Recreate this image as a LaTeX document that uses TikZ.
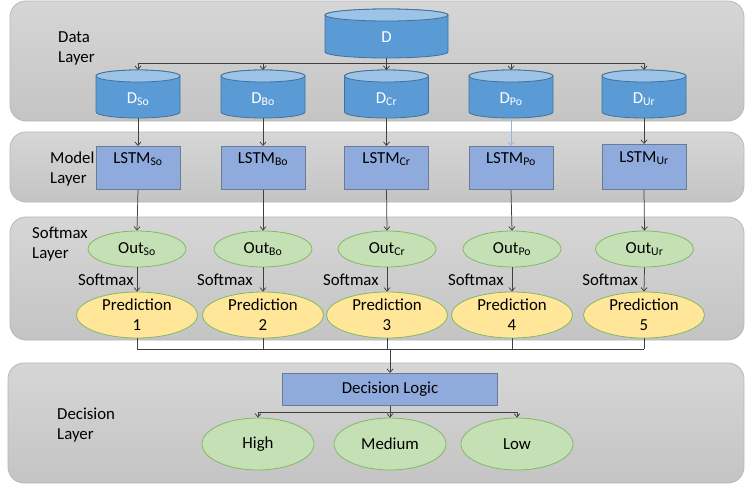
\documentclass[tikz,border=0pt]{standalone}
\usepackage{fontspec}
\setmainfont{Carlito}
\usetikzlibrary{arrows.meta,shapes.geometric,calc}
\definecolor{cylbody}{HTML}{5B9BD5}
\definecolor{cyltop}{HTML}{9DC3E6}
\definecolor{cylline}{HTML}{41719C}
\definecolor{boxfill}{HTML}{8FAADC}
\definecolor{boxline}{HTML}{6B7B95}
\definecolor{greenfill}{HTML}{C5E0B4}
\definecolor{greenline}{HTML}{82B964}
\definecolor{yellowfill}{HTML}{FFE699}
\definecolor{layertop}{HTML}{D6D6D6}
\definecolor{layerbot}{HTML}{C4C4C4}
\definecolor{layerline}{HTML}{B8B8B8}
\definecolor{arrowcol}{HTML}{404040}
\definecolor{poarrow}{HTML}{8DB8E0}
\newcommand{\sbs}[1]{\textsubscript{#1}}
\newcommand{\mycyl}[6]{%
  \path[fill=cylbody, draw=cylline, line width=0.8pt]
    ({#2-#5},{#3+6}) -- ({#2-#5},{#4-6})
    arc[start angle=180, end angle=360, x radius=#5pt, y radius=6pt]
    -- ({#2+#5},{#3+6})
    arc[start angle=0, end angle=180, x radius=#5pt, y radius=6pt] -- cycle;
  \path[fill=cyltop, draw=cylline, line width=0.8pt] (#2,{#3+6}) ellipse[x radius=#5pt, y radius=6pt];
  \pgfmathsetmacro\cyldepth{#4-#3-33}%
  \pgfmathsetmacro\cylwidth{2*#5}%
  \node[cylnode, minimum width=\cylwidth pt, text depth=\cyldepth pt] (#1) at (#2,#3) {#6};
}
\begin{document}
\begin{tikzpicture}[x=1pt,y=-1pt,
  font=\fontsize{16.8}{20}\selectfont,
  layer/.style={rounded corners=16pt, top color=layertop, bottom color=layerbot, draw=layerline, line width=0.8pt},
  cylnode/.style={anchor=north, inner sep=0pt, text=white, text height=33pt},
  lstm/.style={anchor=north, draw=boxline, fill=boxfill, line width=0.8pt, minimum width=84pt, inner sep=0pt, text height=17pt, text depth=26pt},
  outell/.style={ellipse, draw=greenline, fill=greenfill, line width=0.8pt, minimum width=98pt, minimum height=36pt, inner sep=0pt},
  predell/.style={ellipse, draw=greenline, fill=yellowfill, line width=0.8pt, minimum width=121pt, minimum height=46pt, inner sep=0pt, align=center},
  decell/.style={ellipse, draw=greenline, fill=greenfill, line width=0.8pt, minimum width=112pt, minimum height=52pt, inner sep=0pt},
  lbl/.style={anchor=north west, align=left, inner sep=0pt},
  conn/.style={draw=arrowcol, line width=0.75pt},
  arr/.style={conn, -{Straight Barb[length=3.5pt,width=6pt]}},
  sm/.style={inner sep=0pt, anchor=east}
]
\useasboundingbox (0,0) rectangle (745,485);
\fill[white] (0,0) rectangle (745,485);

% layers
\draw[layer] (10,1) rectangle (744,121);
\draw[layer] (10,132) rectangle (744,202);
\draw[layer] (10,217) rectangle (744,340);
\draw[layer] (8,363) rectangle (744,483);

% layer labels
\node[lbl] (ldata) at (58,31.2) {Data\\Layer};
\node[lbl] (lmodel) at (50,151.2) {Model\\Layer};
\node[lbl] (lsoft) at (32,227.2) {Softmax\\Layer};
\node[lbl] (ldec) at (57,408.2) {Decision\\Layer};

% cylinders
\mycyl{D}{386.5}{9}{58}{61.5}{D}
\mycyl{dso}{138}{70}{118}{42}{D\sbs{So}}
\mycyl{dbo}{263}{70}{118}{42}{D\sbs{Bo}}
\mycyl{dcr}{386.5}{70}{118}{42}{D\sbs{Cr}}
\mycyl{dpo}{511}{70}{118}{42}{D\sbs{Po}}
\mycyl{dur}{644}{70}{118}{42}{D\sbs{Ur}}

% data bus
\coordinate (dbus) at (386.5,63);
\draw[conn] (D.south) -- (dbus);
\draw[conn] (dso.north |- dbus) -- (dur.north |- dbus);
\foreach \n in {dso,dbo,dcr,dpo,dur} \draw[arr] (\n.north |- dbus) -- (\n.north);

% LSTM boxes
\node[lstm] (lso) at (138,146) {LSTM\sbs{So}};
\node[lstm] (lbo) at (263,146) {LSTM\sbs{Bo}};
\node[lstm] (lcr) at (386.5,146) {LSTM\sbs{Cr}};
\node[lstm] (lpo) at (511,146) {LSTM\sbs{Po}};
\node[lstm, text height=18pt, text depth=27pt] (lur) at (644,144) {LSTM\sbs{Ur}};

\draw[arr] (dso.south) -- (lso.north);
\draw[arr] (dbo.south) -- (lbo.north);
\draw[arr] (dcr.south) -- (lcr.north);
\draw[arr, draw=poarrow] (dpo.south) -- (lpo.north);
\draw[arr] (dur.south) -- (lur.north);

% outputs
\node[outell] (oso) at (137,249) {Out\sbs{So}};
\node[outell] (obo) at (263,249) {Out\sbs{Bo}};
\node[outell] (ocr) at (387,249) {Out\sbs{Cr}};
\node[outell] (opo) at (512,249) {Out\sbs{Po}};
\node[outell] (our) at (644.5,249) {Out\sbs{Ur}};

\draw[arr] (lso.south) -- (oso.north);
\draw[arr] (lbo.south) -- (obo.north);
\draw[arr] (lcr.south) -- (ocr.north);
\draw[arr] (lpo.south) -- (opo.north);
\draw[arr] (lur.south) -- (our.north);

% predictions
\node[predell] (pso) at (137,315) {Prediction\\1};
\node[predell] (pbo) at (263,315) {Prediction\\2};
\node[predell] (pcr) at (387,315) {Prediction\\3};
\node[predell] (ppo) at (512,315) {Prediction\\4};
\node[predell] (pur) at (644,315) {Prediction\\5};

\draw[arr] (oso.south) -- node[sm, xshift=-3pt] {Softmax} (pso.north);
\draw[arr] (obo.south) -- node[sm, xshift=-10pt] {Softmax} (pbo.north);
\draw[arr] (ocr.south) -- node[sm, xshift=-8pt] {Softmax} (pcr.north);
\draw[arr] (opo.south) -- node[sm, xshift=-8pt] {Softmax} (ppo.north);
\draw[arr] (our.south) -- node[sm, xshift=-6pt] {Softmax} (pur.north);

% decision
\node[anchor=north, draw=boxline, fill=boxfill, line width=0.8pt, minimum width=215pt, minimum height=32pt, inner sep=0pt] (dl) at (390,373) {Decision Logic};
\coordinate (pbus) at (390,349);
\foreach \n in {pso,pbo,pcr,ppo,pur} \draw[conn] (\n.south) -- (\n.south |- pbus);
\draw[conn] (pso.south |- pbus) -- (pur.south |- pbus);
\draw[arr] (pbus) -- (dl.north);

\node[decell] (high) at (258,444) {High};
\node[decell] (med) at (390,444) {Medium};
\node[decell] (low) at (517,444) {Low};
\coordinate (dlbus) at (390,412);
\draw[conn] (dl.south) -- (dlbus);
\draw[conn] (high.north |- dlbus) -- (low.north |- dlbus);
\foreach \n in {high,med,low} \draw[arr] (\n.north |- dlbus) -- (\n.north);
\end{tikzpicture}
\end{document}
